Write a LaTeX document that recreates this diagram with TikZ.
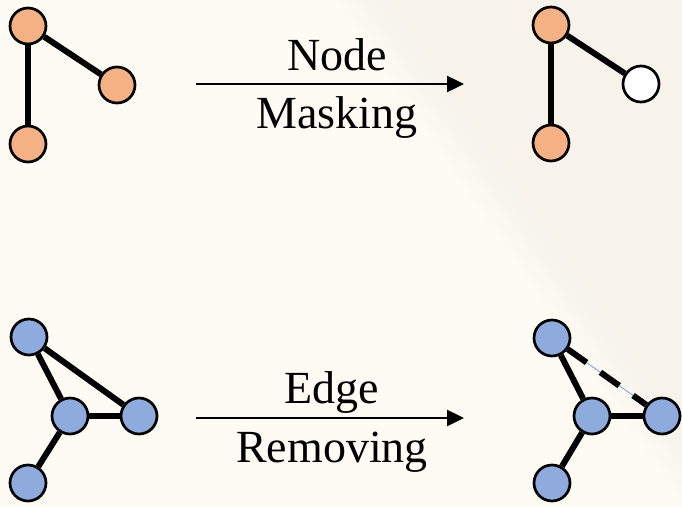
\documentclass[tikz,border=0pt]{standalone}
\usepackage{fontspec}
\setmainfont{Liberation Serif}
\usetikzlibrary{arrows.meta,backgrounds}
\definecolor{bgcream}{HTML}{FEFBF5}
\definecolor{bgshade}{HTML}{F7F3EA}
\definecolor{nodeorange}{HTML}{F4B183}
\definecolor{nodeblue}{HTML}{8FAADC}
\begin{document}
\begin{tikzpicture}[x=1pt,y=-1pt,
  vert/.style={circle,draw=black,line width=2.7pt,inner sep=0pt,minimum size=36pt},
  orangevert/.style={vert,fill=nodeorange},
  bluevert/.style={vert,fill=nodeblue},
  maskedvert/.style={vert,fill=white},
  link/.style={line width=6pt},
  droplink/.style={link,dash pattern=on 23pt off 17pt},
  flow/.style={line width=2.4pt,-{Triangle[length=17pt,width=16pt]}},
  caption/.style={font=\fontsize{46}{54}\selectfont,anchor=base,inner sep=0pt}]

\useasboundingbox (0,0) rectangle (682,507);

% --- node masking: original graph
\node[orangevert] (a1) at (28,26) {};
\node[orangevert] (a2) at (117,85) {};
\node[orangevert] (a3) at (28,144) {};
% --- node masking: masked graph
\node[orangevert] (b1) at (551,25) {};
\node[maskedvert] (b2) at (641,84) {};
\node[orangevert] (b3) at (551,143) {};
% --- edge removing: original graph
\node[bluevert] (c1) at (29,337) {};
\node[bluevert] (c2) at (70,416) {};
\node[bluevert] (c3) at (139,416) {};
\node[bluevert] (c4) at (28,483) {};
% --- edge removing: graph with a dropped edge
\node[bluevert] (d1) at (552,338) {};
\node[bluevert] (d2) at (592,416) {};
\node[bluevert] (d3) at (662,416) {};
\node[bluevert] (d4) at (552,483) {};

% transformation arrows and their labels
\coordinate (t1s) at (196,84);
\coordinate (t1e) at (464,84);
\coordinate (t2s) at (196,418);
\coordinate (t2e) at (464,418);
\draw[flow] (t1s) -- (t1e);
\draw[flow] (t2s) -- (t2e);
\node[caption] (lnode) at (337,70) {Node};
\node[caption] (lmask) at (337,128) {Masking};
\node[caption] (ledge) at (332,403) {Edge};
\node[caption] (lremv) at (332,462) {Removing};

\begin{pgfonlayer}{background}
  % paper with a soft diagonal shade on the right
  \fill[bgcream] (0,0) rectangle (682,507);
  \foreach \k in {0,...,11}
    \fill[bgshade,opacity=0.07] (335+\k*6,0) -- (682,0) -- (682,507) -- (685+\k*6,507) -- cycle;
  % edges
  \draw[link] (a1) -- (a2);
  \draw[link] (a1) -- (a3);
  \draw[link] (b1) -- (b2);
  \draw[link] (b1) -- (b3);
  \draw[link] (c1) -- (c2);
  \draw[link] (c1) -- (c3);
  \draw[link] (c2) -- (c3);
  \draw[link] (c2) -- (c4);
  \draw[link] (d1) -- (d2);
  \draw[link] (d2) -- (d3);
  \draw[link] (d2) -- (d4);
  \draw[nodeblue,line width=1pt] (d1) -- (d3);
  \draw[droplink] (d1) -- (d3);
\end{pgfonlayer}
\end{tikzpicture}
\end{document}
